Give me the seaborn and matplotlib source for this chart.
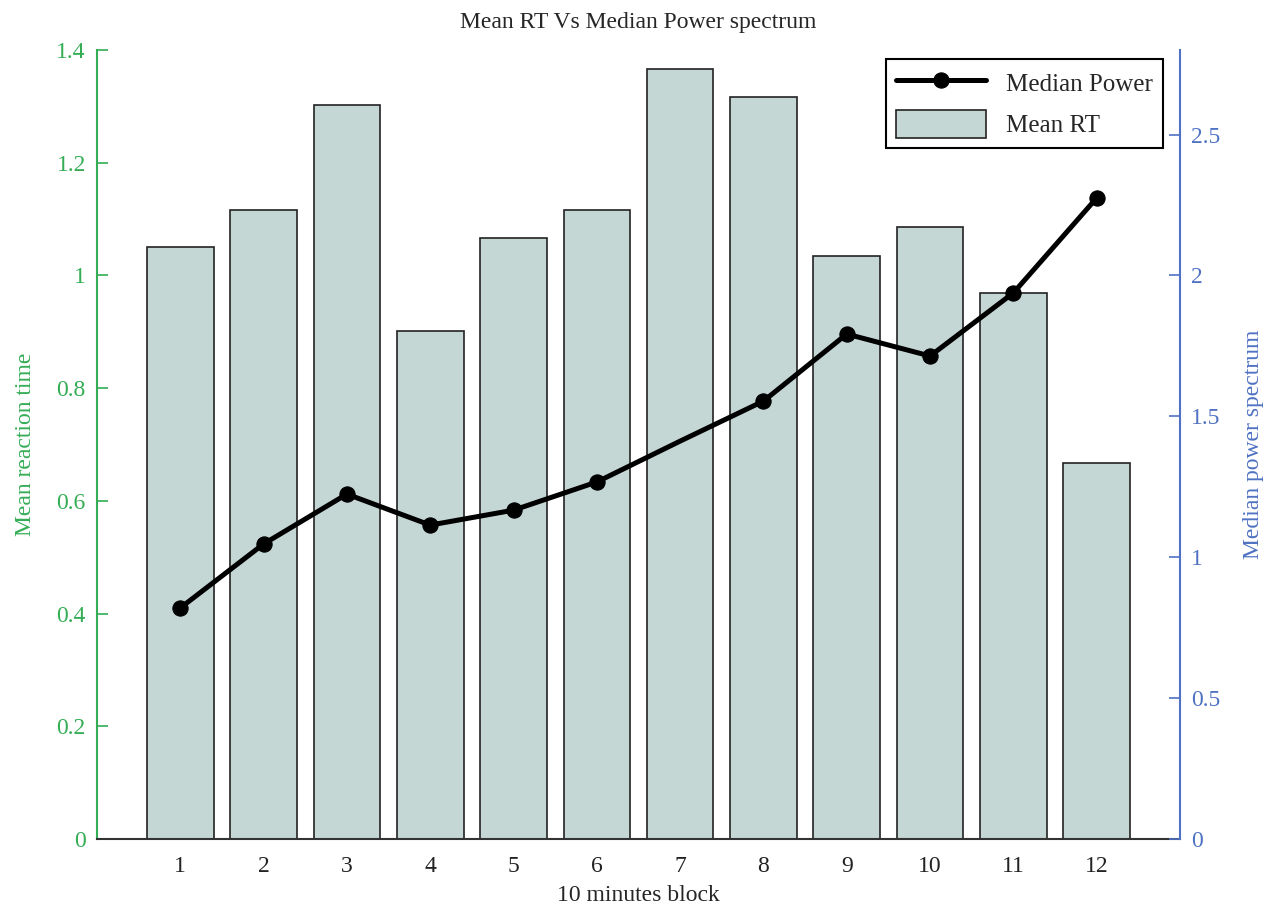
import matplotlib
matplotlib.use("Agg")
import matplotlib.pyplot as plt
import seaborn as sns
import pandas as pd
import numpy as np

blocks = [1, 2, 3, 4, 5, 6, 7, 8, 9, 10, 11, 12]
mean_rt = [1.050, 1.116, 1.302, 0.901, 1.066, 1.116, 1.366, 1.317, 1.034, 1.086, 0.969, 0.667]
median_power = [0.820, 1.047, 1.224, 1.114, 1.167, 1.267, 1.412, 1.554, 1.792, 1.714, 1.938, 2.275]
marked_points = [0, 1, 2, 3, 4, 5, 7, 8, 9, 10, 11]

sns.set_style("ticks")
plt.rcParams['font.family'] = ['Liberation Serif', 'DejaVu Serif']
plt.rcParams['font.size'] = 17

GREEN = "#34ad55"
BLUE = "#4f72c2"
BAR = "#c5d7d5"
FS = 17

df = pd.DataFrame({"block": blocks, "rt": mean_rt, "power": median_power})

fig = plt.figure(figsize=(12.71, 9.09), dpi=100)
ax = fig.add_axes([0.0763, 0.077, 0.8521, 0.868])

sns.barplot(data=df, x="block", y="rt", native_scale=True, width=0.8,
            color=BAR, saturation=1, edgecolor="#222222", linewidth=1.2,
            ax=ax, label="Mean RT")
ax.set_xlim(0, 13)
ax.set_ylim(0, 1.4)
ax.set_xticks(blocks)
ax.set_xticklabels([str(b) for b in blocks])
ax.set_yticks(np.arange(0, 1.41, 0.2))
ax.set_yticklabels(["0", "0.2", "0.4", "0.6", "0.8", "1", "1.2", "1.4"])
ax.tick_params(axis="y", direction="in", length=8, width=1.2, colors=GREEN, labelsize=FS, pad=8)
ax.tick_params(axis="x", direction="in", length=8, width=1.2, colors="#222222", labelsize=FS, pad=12)
ax.set_xlabel("10 minutes block", fontsize=FS, labelpad=6)
ax.set_ylabel("Mean reaction time", fontsize=FS, color=GREEN, labelpad=15)
ax.spines["left"].set_color(GREEN)
ax.spines["left"].set_linewidth(1.5)
ax.spines["bottom"].set_color("#333333")
ax.spines["bottom"].set_linewidth(1.5)
ax.spines["top"].set_visible(False)
ax.spines["right"].set_visible(False)

ax2 = ax.twinx()
sns.lineplot(data=df, x="block", y="power", color="black", linewidth=3.6,
             marker="o", markersize=11, markeredgecolor="black", markevery=marked_points,
             ax=ax2, label="Median Power", legend=False)
ax2.set_ylim(0, 2.8)
ax2.set_xlim(0, 13)
ax2.set_yticks([0, 0.5, 1, 1.5, 2, 2.5])
ax2.set_yticklabels(["0", "0.5", "1", "1.5", "2", "2.5"])
ax2.tick_params(axis="y", direction="in", length=8, width=1.2, colors=BLUE, labelsize=FS, pad=8)
ax2.set_ylabel("Median power spectrum", fontsize=FS, color=BLUE, labelpad=16)
ax2.spines["right"].set_color(BLUE)
ax2.spines["right"].set_linewidth(1.5)
for s in ["top", "left", "bottom"]:
    ax2.spines[s].set_visible(False)

h1, l1 = ax2.get_legend_handles_labels()
h0, l0 = ax.get_legend_handles_labels()
leg = ax2.legend(h1 + h0, l1 + l0, loc="upper right", bbox_to_anchor=(0.984, 0.988),
                 borderaxespad=0, fancybox=False, framealpha=1, edgecolor="black",
                 fontsize=18, handlelength=3.6, handleheight=1.3, handletextpad=0.8,
                 borderpad=0.4, labelspacing=0.55)
leg.get_frame().set_linewidth(1.5)
if ax.get_legend() is not None:
    ax.get_legend().remove()

ax.set_title("Mean RT Vs Median Power spectrum", fontsize=FS, pad=16)

fig.savefig("out.png", dpi=100)
